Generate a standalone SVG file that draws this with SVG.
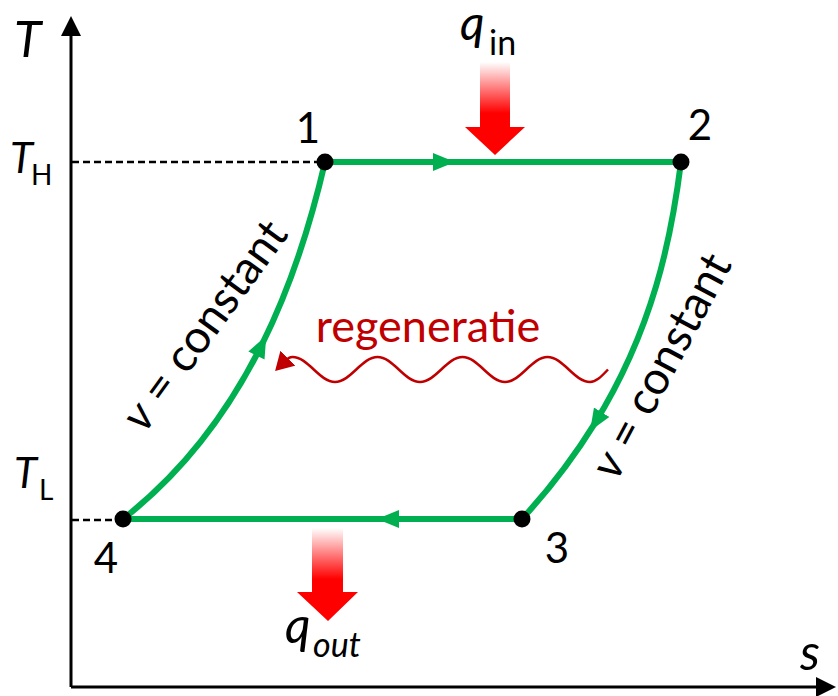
<svg xmlns="http://www.w3.org/2000/svg" width="838" height="696" viewBox="0 0 838 696">
<style>
text{font-family:Lato,"Liberation Sans",sans-serif;fill:#000}
.it{font-style:italic}
.axis{stroke:#000;stroke-width:3;fill:none}
.dash{stroke:#000;stroke-width:2.5;stroke-dasharray:7 4;fill:none}
.proc{stroke:#00B050;stroke-width:6;fill:none;marker-mid:url(#ga)}
.pt{fill:#000}
.wave{stroke:#C00000;stroke-width:2.5;fill:none;marker-end:url(#ra)}
</style>
<defs>
<marker id="ga" markerUnits="userSpaceOnUse" viewBox="0 0 22 18" markerWidth="22" markerHeight="18" refX="13" refY="9" orient="auto"><path d="M0,0 L22,9 L0,18 z" fill="#00B050"/></marker>
<marker id="ra" markerUnits="userSpaceOnUse" viewBox="0 0 18 21" markerWidth="18" markerHeight="21" refX="4" refY="10.5" orient="auto"><path d="M0,0 L18,10.5 L0,21 z" fill="#C00000"/></marker>
<marker id="ax" markerUnits="userSpaceOnUse" viewBox="0 0 20 20" markerWidth="20" markerHeight="20" refX="2" refY="10" orient="auto"><path d="M0,0 L20,10 L0,20 z" fill="#000"/></marker>
<linearGradient id="hg" x1="0" y1="0" x2="0" y2="1">
<stop offset="0" stop-color="#FFFFFF"/>
<stop offset="0.55" stop-color="#FF0000"/>
<stop offset="1" stop-color="#FF0000"/>
</linearGradient>
</defs>

<g id="axes">
<path class="axis" d="M71,687 L71,34" marker-end="url(#ax)"/>
<path class="axis" d="M71,687 L818,687" marker-end="url(#ax)"/>
<text class="it" x="14" y="57" font-size="50">T</text>
<text x="800" y="670" class="it" font-size="50">s</text>
</g>

<g id="TH">
<path class="dash" d="M72,162 L325,162"/>
<text x="10" y="173" font-size="42" class="it">T</text>
<text x="31" y="185" font-size="28">H</text>
</g>
<g id="TL">
<path class="dash" d="M72,520 L123,520"/>
<text x="14" y="488" font-size="42" class="it">T</text>
<text x="39" y="500" font-size="28">L</text>
</g>

<g id="connectors">
<path id="p12" class="proc" d="M325,162 L446,162 L681,162"/>
<path id="p23" class="proc" d="M681,162 C671.25,239.25 653.06,328.88 594.8,423.3 C575.38,454.75 551.5,486.75 522,519"/>
<path id="p34" class="proc" d="M522,519 L386,519 L123,519"/>
<path id="p41" class="proc" d="M123,519 C186.5,469.5 230.75,407.25 262.25,343.88 C293.75,280.5 312.5,216 325,162"/>
<path id="regen" class="wave" d="M608,369.5 C601,377 596,382 590,382 C574.4,382 563.1,357 547.5,357 C531.9,357 520.6,382 505,382 C489.4,382 478.1,357 462.5,357 C446.9,357 435.6,382 420,382 C404.4,382 393.1,357 377.5,357 C361.9,357 350.6,382 335,382 C319.4,382 308.1,357 292.5,357 C289,357 287,359 285,361"/>
</g>

<g id="n1"><circle class="pt" cx="325" cy="162" r="8.5"/><text x="308" y="143" font-size="42" text-anchor="middle">1</text></g>
<g id="n2"><circle class="pt" cx="681" cy="162" r="8.5"/><text x="700" y="140" font-size="42" text-anchor="middle">2</text></g>
<g id="n3"><circle class="pt" cx="522" cy="519" r="8.5"/><text x="557" y="563" font-size="42" text-anchor="middle">3</text></g>
<g id="n4"><circle class="pt" cx="123" cy="519" r="8.5"/><text x="106" y="573" font-size="42" text-anchor="middle">4</text></g>

<g id="qin">
<path d="M480,62 L510,62 L510,127 L525,127 L495,155 L465,127 L480,127 z" fill="url(#hg)"/>
<text x="460" y="40" font-size="48" class="it">q</text>
<text x="489" y="55" font-size="34">in</text>
</g>
<g id="qout">
<path d="M312,528 L343,528 L343,592 L358,592 L328,621 L297,592 L312,592 z" fill="url(#hg)"/>
<text x="285" y="643" font-size="50" class="it">q</text>
<text x="313" y="657" font-size="34" class="it">out</text>
</g>

<g id="regen-label">
<text x="428" y="342" font-size="45" text-anchor="middle" style="fill:#C00000">regeneratie</text>
</g>

<g id="vleft">
<text transform="translate(208,328) rotate(-54)" x="0" y="11" font-size="46" text-anchor="middle"><tspan class="it">v</tspan> = constant</text>
</g>
<g id="vright">
<text transform="translate(665,368) rotate(-62)" x="0" y="11" font-size="46" text-anchor="middle"><tspan class="it">v</tspan> = constant</text>
</g>
</svg>
